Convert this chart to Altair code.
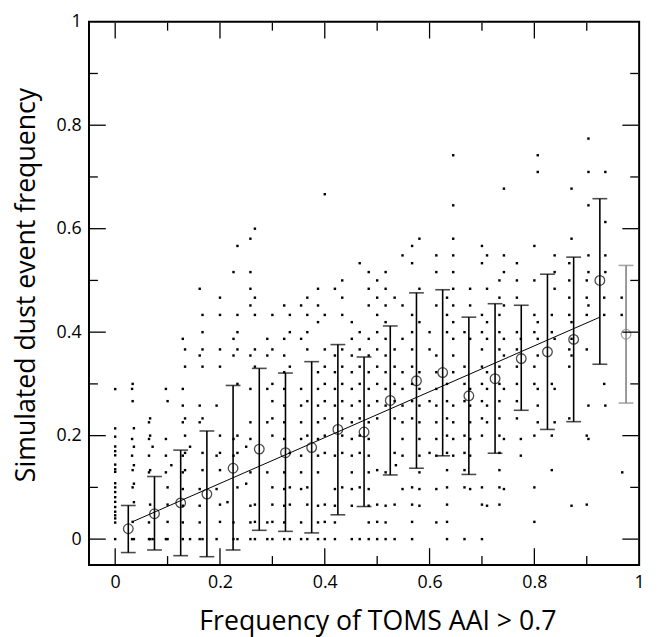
import altair as alt
import pandas as pd

# ---- scattered grid-cell values ----
# 31-day months: {days with AAI>0.7 : [simulated dust days, ...]}
days31 = {
    1: [0, 5, 6, 9], 2: [0, 1, 4, 5, 6, 7], 3: [0, 4, 5, 6, 9],
    4: [0, 1, 2, 3, 4, 5, 7, 8, 9, 12], 5: [0, 1, 2, 3, 7, 8, 11, 15],
    6: [0, 3, 5, 8], 7: [0, 1, 5, 6, 11, 12, 16],
    8: [0, 1, 2, 4, 6, 7, 9, 11, 14, 15, 16, 18], 9: [0, 1, 4, 7, 9, 11, 12],
    10: [0, 1, 2, 3, 4, 6, 7, 8, 9, 10, 11, 12, 14],
    11: [0, 1, 3, 4, 5, 6, 7, 8, 9, 12, 14],
    12: [0, 1, 2, 4, 5, 6, 7, 8, 9, 10, 13, 14, 15],
    13: [0, 1, 2, 3, 5, 8, 9, 10, 11, 15],
    14: [0, 2, 3, 4, 5, 6, 7, 8, 9, 10, 11, 12, 13],
    15: [0, 1, 2, 3, 4, 5, 6, 7, 8, 9, 10, 11, 12, 14, 15, 16],
    16: [0, 1, 2, 4, 8, 9, 10, 11, 12, 13, 14, 15, 16],
    17: [3, 5, 6, 7, 8, 9, 10, 12, 14, 17],
    18: [2, 3, 4, 5, 6, 7, 8, 9, 10, 13, 15, 18],
    19: [1, 3, 5, 6, 7, 8, 9, 10, 11, 14, 16, 17],
    20: [5, 6, 7, 8, 10, 11, 12, 13, 14, 15, 16, 17, 18, 20, 23],
    21: [3, 5, 6, 7, 8, 9, 12, 14, 15], 22: [2, 7, 8, 9, 10, 12, 13, 15, 17],
    23: [3, 6, 9, 11, 12, 14, 16, 17, 21], 24: [5, 6, 12],
    25: [7, 8, 9, 11, 12, 13, 22, 23], 26: [7, 9, 12, 15, 16, 17],
    27: [2, 11, 12, 13, 18, 21], 28: [6, 8, 14, 16, 17, 20, 22, 24],
    29: [8, 16, 17, 19, 22], 30: [4],
}
# 30-day months
days30 = {
    1: [1, 3, 4, 8, 9], 2: [0, 2, 4, 6, 7], 3: [0, 1, 2, 3, 8],
    4: [4, 5, 6, 7, 10, 11], 5: [0, 4, 5, 7, 10, 11, 12, 13],
    6: [1, 2, 4, 5, 6, 10, 11, 13, 14], 7: [0, 3, 5, 6, 9, 11, 12, 13, 17],
    8: [0, 1, 2, 10, 11, 13, 14, 18], 9: [0, 1, 2, 3, 6, 7, 8, 9, 11, 13],
    10: [0, 2, 3, 5, 10, 12, 13], 11: [0, 2, 3, 6, 8, 11, 12, 13, 14],
    12: [0, 1, 2, 5, 6, 7, 8, 9, 10, 11, 13, 20],
    13: [3, 5, 6, 7, 8, 9, 10, 11, 13, 14, 15],
    14: [0, 3, 5, 6, 7, 8, 9, 10, 11, 12, 16],
    15: [0, 1, 2, 4, 7, 8, 9, 10, 11, 12, 13, 14, 15],
    16: [0, 2, 5, 7, 8, 9, 10, 11, 14],
    17: [0, 1, 2, 3, 7, 8, 9, 10, 11, 12, 13, 16, 17], 18: [5, 8, 11, 12],
    19: [0, 1, 2, 3, 4, 5, 6, 7, 8, 9, 12, 13, 14],
    20: [0, 3, 4, 5, 6, 8, 9, 10, 12],
    21: [0, 2, 3, 6, 7, 8, 9, 10, 11, 12, 13, 16, 17],
    22: [2, 3, 4, 5, 6, 7, 8, 9, 10, 11, 12, 13, 14, 15],
    23: [7, 8, 9, 10, 11, 12, 14, 15, 16], 24: [1, 3, 6, 9, 10, 12, 13, 15, 17],
    25: [4, 6, 9, 12, 13], 26: [7, 10, 11, 13, 14, 15, 16],
    27: [2, 6, 11, 13, 14, 15], 28: [9, 13, 14], 29: [13, 14],
}
# 28-day months (k, j)
days28 = [(1, 0), (2, 0), (4, 0), (1, 2), (6, 2), (1, 3), (7, 3), (1, 4), (3, 4),
          (15, 4), (1, 5), (2, 5), (4, 5), (7, 5), (1, 6)]
# cells with zero AAI frequency
zero_col_y = [0, 0.032, 0.040, 0.046, 0.053, 0.062, 0.072, 0.081, 0.091, 0.100,
              0.108, 0.130, 0.135, 0.144, 0.162, 0.170, 0.179, 0.198, 0.214, 0.290]

# ---- binned means and spread ----
bin_x = [0.025, 0.075, 0.125, 0.175, 0.225, 0.275, 0.325, 0.375, 0.425, 0.475,
         0.525, 0.575, 0.625, 0.675, 0.725, 0.775, 0.825, 0.875, 0.925, 0.975]
bin_mean = [0.020, 0.049, 0.070, 0.087, 0.137, 0.174, 0.167, 0.177, 0.212, 0.207,
            0.268, 0.306, 0.322, 0.277, 0.310, 0.349, 0.362, 0.386, 0.500, 0.396]
bin_hi = [0.065, 0.121, 0.172, 0.209, 0.297, 0.330, 0.321, 0.343, 0.376, 0.352,
          0.412, 0.476, 0.482, 0.429, 0.455, 0.452, 0.512, 0.545, 0.658, 0.529]
bin_lo = [-0.026, -0.021, -0.032, -0.034, -0.021, 0.017, 0.015, 0.012, 0.047, 0.063,
          0.124, 0.137, 0.161, 0.125, 0.166, 0.249, 0.212, 0.227, 0.338, 0.263]
bin_color = ["black"] * 19 + ["#808080"]

fit_x = [0.034, 0.925]
fit_y = [0.034, 0.429]

major = [0, 0.2, 0.4, 0.6, 0.8]
minor = [0.1, 0.3, 0.5, 0.7, 0.9]
labels = [0, 0.2, 0.4, 0.6, 0.8, 1]
LO, HI = -0.05, 1.0

W, H = 557, 550
FONT = "Open Sans"

rows = []
for n, grid in ((31, days31), (30, days30)):
    for k, js in grid.items():
        for j in js:
            rows.append({"x": k / n, "y": j / n})
for k, j in days28:
    rows.append({"x": k / 28, "y": j / 28})
for v in zero_col_y:
    rows.append({"x": 0.0, "y": v})
dots = pd.DataFrame(rows)

bins = pd.DataFrame({"x": bin_x, "mean": bin_mean, "lo": bin_lo, "hi": bin_hi, "c": bin_color})
fit = pd.DataFrame({"x": fit_x, "y": fit_y})

# inward frame ticks as two-point line paths (one path per tick)
span = HI - LO
px_x, px_y = span / W, span / H   # data units per pixel
path_rows = []
tid = 0
for vals, L in ((major, 17), (minor, 9)):
    for v in vals:
        for (xa, ya), (xb, yb) in (
            ((LO + px_x, v), (LO + L * px_x, v)),          # left
            ((HI - L * px_x, v), (HI - px_x, v)),          # right
            ((v, LO + px_y), (v, LO + L * px_y)),          # bottom
            ((v, HI - L * px_y), (v, HI - px_y)),          # top
        ):
            path_rows.append({"id": tid, "o": 0, "x": xa, "y": ya})
            path_rows.append({"id": tid, "o": 1, "x": xb, "y": yb})
            tid += 1
tick_paths = pd.DataFrame(path_rows)

xs = alt.Scale(domain=[LO, HI], nice=False, zero=False)
ys = alt.Scale(domain=[LO, HI], nice=False, zero=False)

common = dict(values=labels, format=".1~f", ticks=False, tickSize=0, domain=False, grid=False,
              labelFont=FONT, labelFontSize=18, labelColor="black", labelFlush=False,
              titleFont=FONT, titleFontSize=27, titleFontWeight="normal", titleColor="black",
              titleBaseline="alphabetic")
xaxis = alt.Axis(title="Frequency of TOMS AAI > 0.7", labelPadding=9,
                 titleX=292, titleY=65, **common)
yaxis = alt.Axis(title="Simulated dust event frequency", labelPadding=8,
                 titleX=-55, titleY=266, **common)

X = lambda f: alt.X(f, type="quantitative", scale=xs, axis=xaxis)
Y = lambda f: alt.Y(f, type="quantitative", scale=ys, axis=yaxis)
C = alt.Color("c:N", scale=None)

points = alt.Chart(dots).mark_square(size=6, color="black", opacity=1).encode(x=X("x"), y=Y("y"))

frame_ticks = alt.Chart(tick_paths).mark_line(color="black", strokeWidth=1.3).encode(
    x=X("x"), y=Y("y"), detail="id:N", order="o:Q")

bars = alt.Chart(bins).mark_rule(strokeWidth=1.6).encode(
    x=X("x"), y=Y("lo"), y2="hi", color=C)
cap_hi = alt.Chart(bins).mark_tick(orient="horizontal", size=15, thickness=1.6).encode(
    x=X("x"), y=Y("hi"), color=C)
cap_lo = alt.Chart(bins).mark_tick(orient="horizontal", size=15, thickness=1.6).encode(
    x=X("x"), y=Y("lo"), color=C)
means = alt.Chart(bins).mark_point(shape="circle", filled=False, size=95, strokeWidth=1.3).encode(
    x=X("x"), y=Y("mean"), color=C)
line = alt.Chart(fit).mark_line(color="black", strokeWidth=1).encode(x=X("x"), y=Y("y"))

chart = alt.layer(points, line, bars, cap_hi, cap_lo, means, frame_ticks).properties(
    width=W, height=H,
    autosize=alt.AutoSizeParams(type="none"),
    padding={"left": 82, "top": 10, "right": 12, "bottom": 69},
).configure_view(stroke="black", strokeWidth=2)

chart.save("out.html", embed_options={"renderer": "svg", "actions": False})
